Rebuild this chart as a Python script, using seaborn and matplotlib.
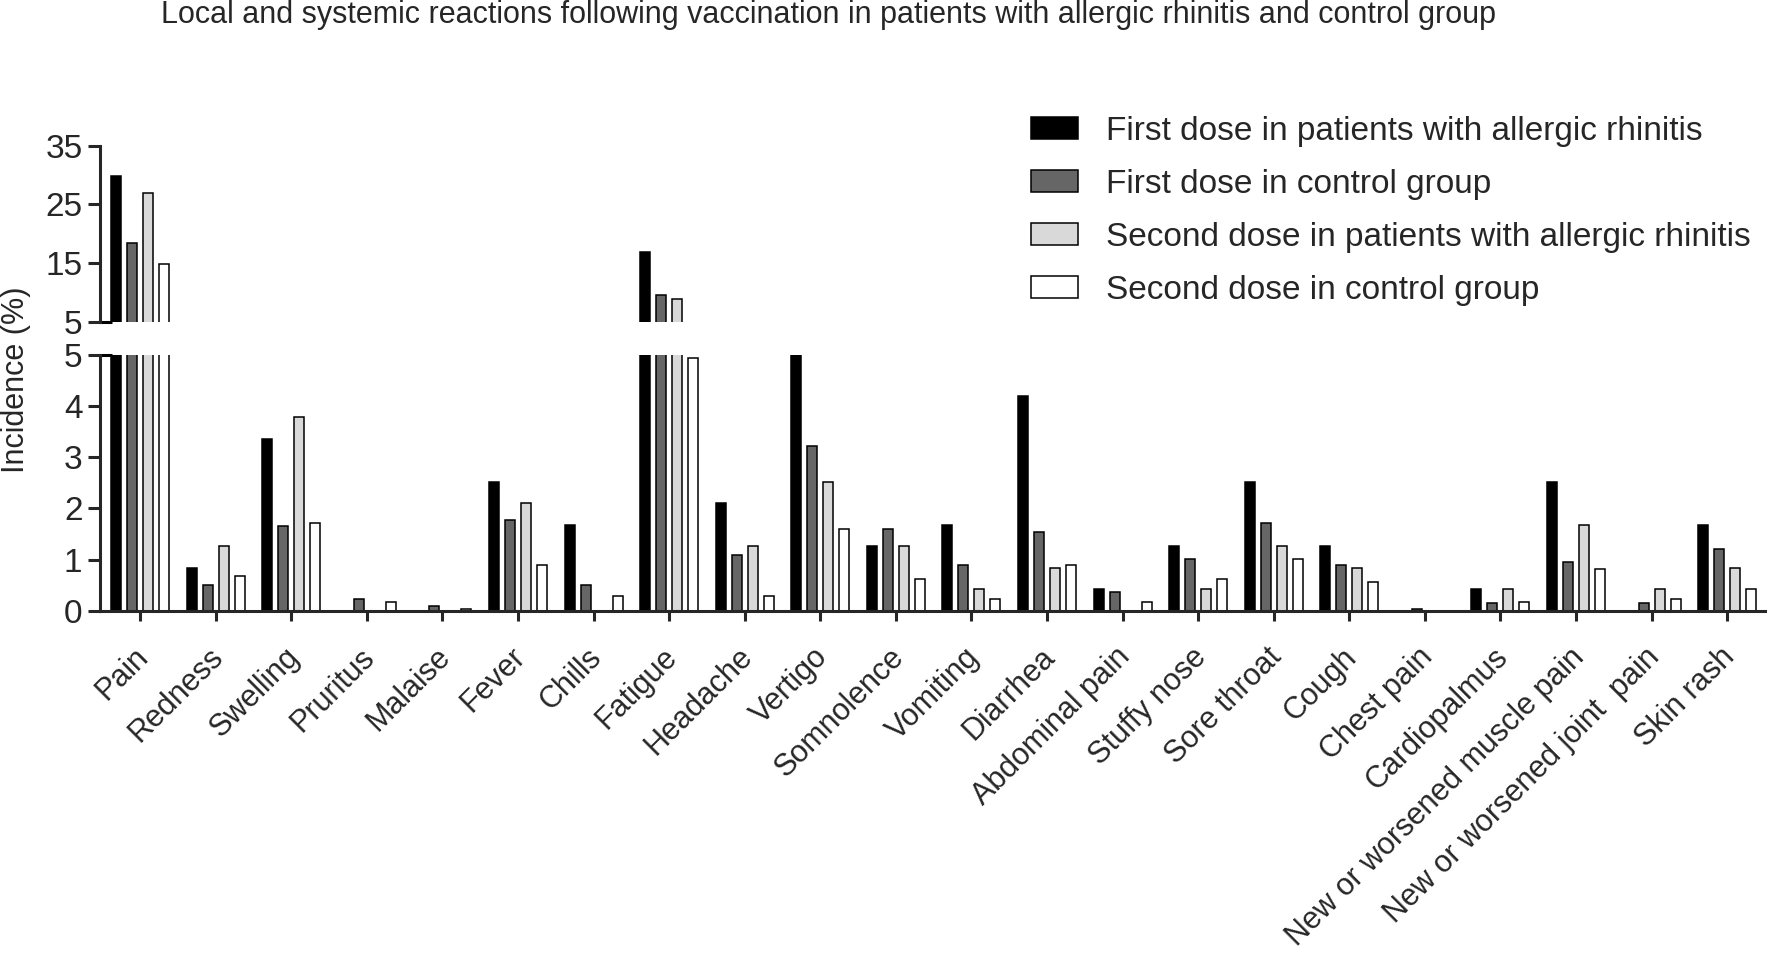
import matplotlib
matplotlib.use("Agg")
import matplotlib.pyplot as plt
from matplotlib.patches import Patch
from matplotlib.transforms import ScaledTranslation
import seaborn as sns
import pandas as pd
import numpy as np

symptoms = ["Pain", "Redness", "Swelling", "Pruritus", "Malaise", "Fever", "Chills",
            "Fatigue", "Headache", "Vertigo", "Somnolence", "Vomiting", "Diarrhea",
            "Abdominal pain", "Stuffy nose", "Sore throat", "Cough", "Chest pain",
            "Cardiopalmus", "New or worsened muscle pain", "New or worsened joint  pain",
            "Skin rash"]

groups = ["First dose in patients with allergic rhinitis",
          "First dose in control group",
          "Second dose in patients with allergic rhinitis",
          "Second dose in control group"]

first_ar = [29.8, 0.84, 3.36, 0, 0, 2.52, 1.68, 16.8, 2.10, 5.0, 1.26, 1.68, 4.20,
            0.42, 1.26, 2.52, 1.26, 0, 0.42, 2.52, 0, 1.68]
first_ctrl = [18.5, 0.50, 1.65, 0.22, 0.09, 1.78, 0.50, 9.6, 1.08, 3.22, 1.59, 0.89, 1.53,
              0.36, 1.02, 1.72, 0.89, 0.04, 0.16, 0.95, 0.16, 1.21]
second_ar = [26.9, 1.26, 3.78, 0, 0, 2.10, 0, 8.8, 1.26, 2.52, 1.26, 0.42, 0.84,
             0, 0.42, 1.26, 0.84, 0, 0.42, 1.68, 0.42, 0.84]
second_ctrl = [14.8, 0.68, 1.72, 0.17, 0.03, 0.89, 0.28, 4.95, 0.28, 1.60, 0.62, 0.22, 0.89,
               0.17, 0.62, 1.02, 0.56, 0, 0.17, 0.81, 0.22, 0.42]

colors = ["#000000", "#666666", "#d9d9d9", "#ffffff"]

title = "Local and systemic reactions following vaccination in patients with allergic rhinitis and control group"
ylabel = "Incidence (%)"

top_ticks = [5, 15, 25, 35]
bottom_ticks = [0, 1, 2, 3, 4, 5]

rows = []
for g, vals in zip(groups, [first_ar, first_ctrl, second_ar, second_ctrl]):
    for s, v in zip(symptoms, vals):
        rows.append({"Symptom": s, "Group": g, "Incidence": v})
df = pd.DataFrame(rows)
palette = dict(zip(groups, colors))

# upper (broken) panel only shows values that reach above the break
df_top = df.copy()
df_top.loc[df_top["Incidence"] <= 5.0, "Incidence"] = np.nan

sns.set_style("ticks")
plt.rcParams["font.family"] = ["Liberation Sans", "DejaVu Sans"]

W, H = 1770, 956
fig = plt.figure(figsize=(W / 100, H / 100), dpi=100)

left = 100 / W
right = 1765 / W
ax_b = fig.add_axes([left, (H - 610.7) / H, right - left, (610.7 - 355) / H])
ax_t = fig.add_axes([left, (H - 321.7) / H, right - left, (321.7 - 145.7) / H])

spine_w = 2.2
for ax, data in ((ax_b, df), (ax_t, df_top)):
    sns.barplot(data=data, x="Symptom", y="Incidence", hue="Group", order=symptoms,
                hue_order=groups, palette=palette, width=0.847, gap=0.375,
                edgecolor="black", linewidth=1.1, ax=ax, legend=False, errorbar=None)
    ax.set_xlim(-0.53, len(symptoms) - 0.5)
    ax.set_xlabel("")
    ax.set_ylabel("")
    for side in ("top", "right"):
        ax.spines[side].set_visible(False)
    ax.spines["left"].set_linewidth(spine_w)
    ax.spines["bottom"].set_linewidth(spine_w)
    ax.tick_params(axis="y", direction="out", length=8.6, width=spine_w,
                   labelsize=24, pad=4)

ax_b.set_ylim(0, 5)
ax_b.set_yticks(bottom_ticks)
ax_b.tick_params(axis="x", direction="out", length=7, width=spine_w, labelsize=22, pad=15.5)
ax_b.set_xticks(range(len(symptoms)))
ax_b.set_xticklabels(symptoms, rotation=45, ha="right")
shift = ScaledTranslation(14 / 100, 0, fig.dpi_scale_trans)
for lab in ax_b.get_xticklabels():
    lab.set_transform(lab.get_transform() + shift)

ax_t.set_ylim(5, 35)
ax_t.set_yticks(top_ticks)
ax_t.spines["bottom"].set_visible(False)
ax_t.tick_params(axis="x", bottom=False, labelbottom=False)

ext = 12 / (1765 - 100)
ax_t.plot([0, ext], [0, 0], transform=ax_t.transAxes, color="black", lw=spine_w,
          clip_on=False, solid_capstyle="butt")
ax_b.plot([0, ext], [1, 1], transform=ax_b.transAxes, color="black", lw=spine_w,
          clip_on=False, solid_capstyle="butt")

handles = [Patch(facecolor=c, edgecolor="black", linewidth=1.1) for c in colors]
fig.legend(handles, groups, loc="upper left", bbox_to_anchor=(1031 / W, 1 - 116 / H),
           frameon=False, fontsize=24, handlelength=1.41, handleheight=0.63,
           handletextpad=0.84, labelspacing=0.66, borderpad=0, borderaxespad=0)

fig.text(161 / W, 1 - 15 / H, title, fontsize=22, ha="left", va="center")
fig.text(16 / W, 1 - 380 / H, ylabel, fontsize=22, rotation=90, ha="center", va="center")

fig.savefig("out.png", dpi=100)
